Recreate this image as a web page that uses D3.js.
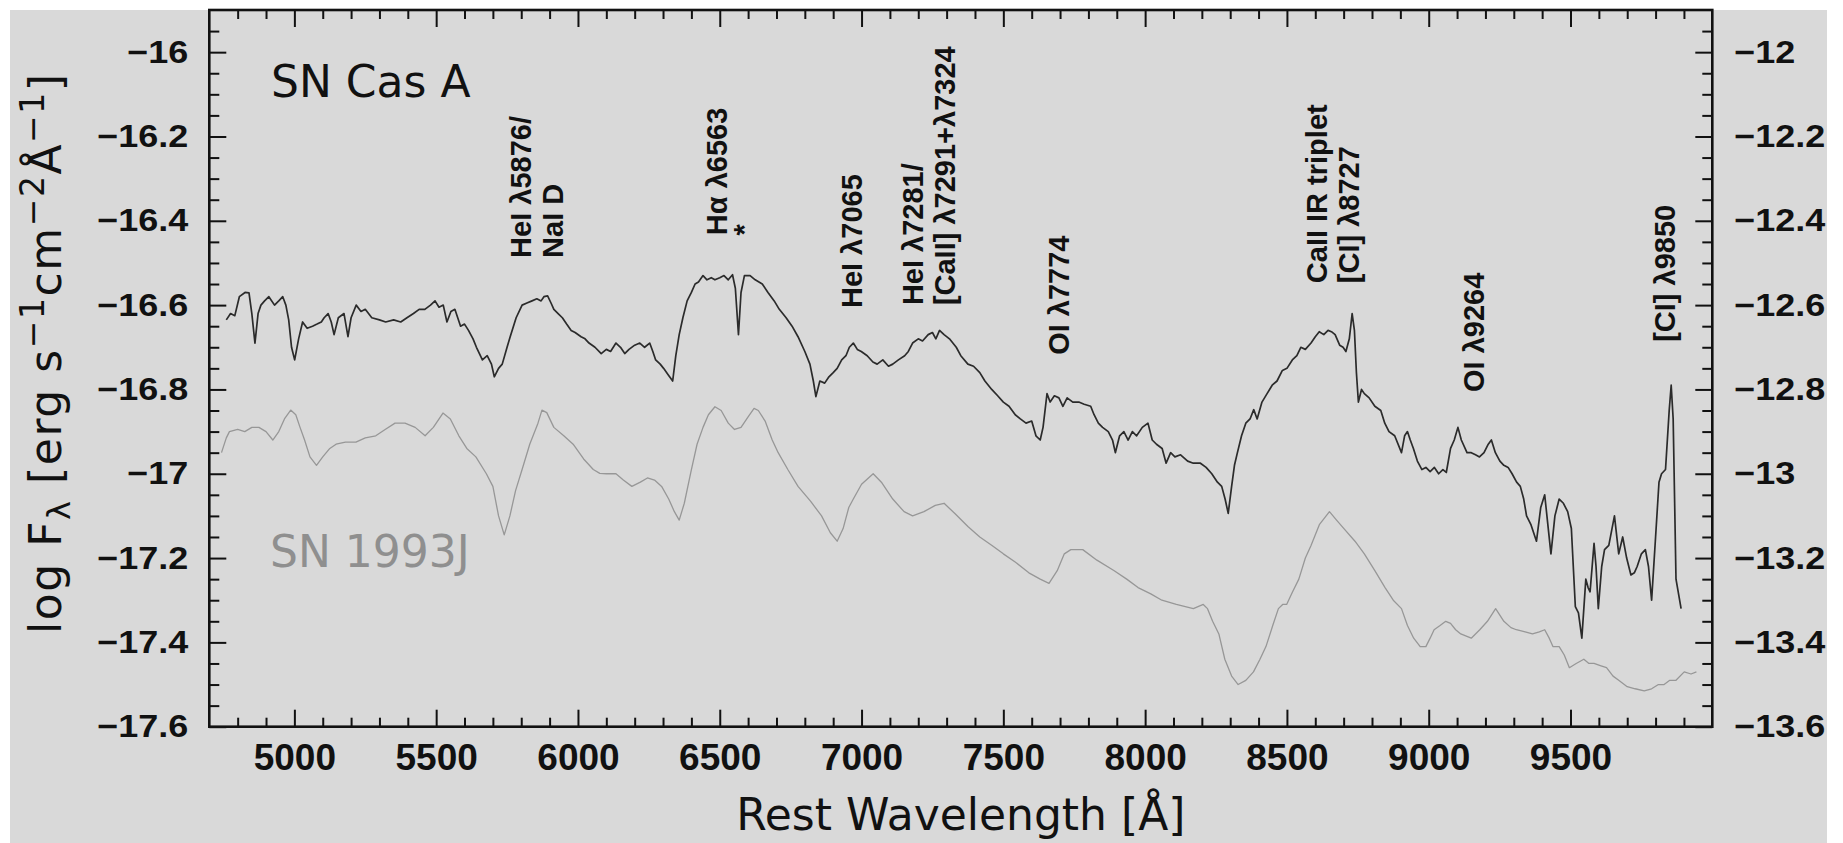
<!DOCTYPE html>
<html>
<head>
<meta charset="utf-8">
<script src="https://cdn.jsdelivr.net/npm/d3@7"></script>
<style>
  html, body { margin: 0; padding: 0; background: #ffffff; }
  svg { display: block; }
</style>
</head>
<body>
<svg id="chart" width="1843" height="843"></svg>
<script>
// ---------------------------------------------------------------
// Spectra: rest wavelength (Angstrom) and log F_lambda
// ---------------------------------------------------------------
const casAWave = [4760,4775,4790,4806,4826,4840,4850,4861,4872,4882,4895,4910,4930,4945,4959,4970,4980,4990,5001,5015,5029,5045,5064,5080,5095,5105,5119,5130,5140,5155,5175,5189,5200,5218,5235,5250,5273,5300,5322,5350,5375,5397,5420,5440,5460,5480,5496,5510,5525,5538,5552,5566,5586,5600,5614,5630,5642,5663,5680,5695,5705,5720,5733,5750,5761,5782,5803,5820,5838,5855,5870,5880,5893,5905,5915,5930,5945,5960,5976,5990,6011,6025,6039,6060,6082,6100,6115,6134,6150,6165,6180,6200,6218,6235,6253,6264,6274,6290,6302,6318,6334,6345,6357,6370,6385,6400,6413,6425,6441,6455,6470,6483,6500,6515,6530,6545,6555,6566,6575,6587,6607,6625,6650,6670,6692,6710,6734,6755,6776,6800,6818,6830,6839,6853,6870,6885,6900,6914,6930,6945,6957,6971,6985,6999,7020,7040,7055,7075,7095,7110,7130,7152,7165,7180,7200,7215,7235,7250,7262,7275,7291,7310,7334,7350,7375,7395,7417,7435,7459,7480,7500,7520,7542,7560,7580,7600,7615,7630,7640,7654,7665,7680,7696,7710,7725,7745,7766,7785,7808,7820,7835,7850,7870,7885,7895,7910,7925,7940,7955,7970,7990,8010,8025,8040,8060,8074,8090,8105,8125,8150,8170,8195,8215,8235,8255,8270,8282,8293,8305,8315,8325,8340,8355,8370,8383,8395,8412,8430,8448,8465,8484,8500,8519,8535,8549,8565,8585,8600,8614,8630,8645,8657,8670,8686,8698,8708,8720,8730,8738,8745,8752,8763,8773,8790,8810,8831,8845,8860,8880,8904,8915,8925,8935,8946,8960,8976,8990,9005,9020,9035,9050,9062,9077,9090,9103,9115,9135,9150,9165,9179,9195,9210,9221,9235,9251,9265,9280,9294,9310,9323,9335,9345,9360,9380,9395,9409,9420,9431,9445,9460,9475,9490,9503,9517,9528,9540,9554,9562,9569,9583,9590,9598,9610,9620,9635,9655,9670,9684,9698,9713,9725,9735,9750,9764,9775,9786,9800,9812,9821,9835,9848,9855,9862,9872,9890];
const casAFlux = [-16.635,-16.62,-16.625,-16.58,-16.57,-16.571,-16.62,-16.69,-16.62,-16.60,-16.59,-16.58,-16.60,-16.59,-16.58,-16.60,-16.635,-16.70,-16.73,-16.68,-16.64,-16.655,-16.65,-16.645,-16.64,-16.63,-16.62,-16.64,-16.67,-16.63,-16.62,-16.675,-16.63,-16.60,-16.615,-16.61,-16.63,-16.635,-16.64,-16.635,-16.64,-16.63,-16.62,-16.61,-16.61,-16.60,-16.59,-16.605,-16.60,-16.64,-16.615,-16.61,-16.65,-16.645,-16.66,-16.68,-16.70,-16.73,-16.72,-16.74,-16.77,-16.75,-16.74,-16.70,-16.675,-16.63,-16.60,-16.595,-16.59,-16.585,-16.59,-16.58,-16.578,-16.595,-16.61,-16.62,-16.63,-16.645,-16.66,-16.665,-16.675,-16.68,-16.69,-16.70,-16.715,-16.705,-16.71,-16.69,-16.70,-16.715,-16.705,-16.695,-16.69,-16.70,-16.69,-16.71,-16.73,-16.74,-16.75,-16.765,-16.78,-16.72,-16.67,-16.63,-16.59,-16.57,-16.55,-16.545,-16.53,-16.54,-16.535,-16.54,-16.535,-16.53,-16.54,-16.528,-16.56,-16.67,-16.57,-16.53,-16.53,-16.54,-16.55,-16.57,-16.59,-16.61,-16.63,-16.65,-16.675,-16.71,-16.74,-16.78,-16.817,-16.78,-16.785,-16.77,-16.76,-16.75,-16.73,-16.72,-16.70,-16.69,-16.705,-16.71,-16.72,-16.735,-16.74,-16.73,-16.745,-16.74,-16.73,-16.72,-16.71,-16.69,-16.68,-16.685,-16.67,-16.665,-16.68,-16.66,-16.67,-16.68,-16.70,-16.72,-16.74,-16.745,-16.76,-16.78,-16.80,-16.815,-16.83,-16.84,-16.86,-16.87,-16.88,-16.875,-16.91,-16.92,-16.89,-16.81,-16.83,-16.815,-16.82,-16.84,-16.82,-16.83,-16.83,-16.835,-16.84,-16.86,-16.88,-16.89,-16.90,-16.92,-16.95,-16.91,-16.90,-16.92,-16.90,-16.91,-16.89,-16.88,-16.92,-16.93,-16.94,-16.975,-16.95,-16.96,-16.955,-16.97,-16.975,-16.975,-16.985,-17.0,-17.02,-17.03,-17.06,-17.094,-17.03,-16.98,-16.951,-16.91,-16.88,-16.87,-16.848,-16.87,-16.83,-16.81,-16.79,-16.78,-16.755,-16.75,-16.73,-16.72,-16.70,-16.705,-16.69,-16.675,-16.663,-16.67,-16.66,-16.663,-16.67,-16.695,-16.70,-16.71,-16.68,-16.62,-16.66,-16.76,-16.83,-16.80,-16.81,-16.82,-16.84,-16.85,-16.88,-16.90,-16.91,-16.95,-16.91,-16.90,-16.92,-16.94,-16.97,-16.99,-16.985,-16.995,-16.985,-17.0,-16.99,-16.997,-16.94,-16.92,-16.89,-16.92,-16.95,-16.95,-16.955,-16.96,-16.95,-16.93,-16.92,-16.95,-16.97,-16.98,-16.985,-17.0,-17.02,-17.03,-17.06,-17.10,-17.12,-17.16,-17.08,-17.05,-17.12,-17.19,-17.10,-17.06,-17.07,-17.09,-17.13,-17.315,-17.33,-17.39,-17.25,-17.27,-17.28,-17.165,-17.22,-17.32,-17.22,-17.18,-17.17,-17.10,-17.19,-17.15,-17.20,-17.24,-17.235,-17.22,-17.19,-17.18,-17.22,-17.30,-17.15,-17.02,-17.0,-16.99,-16.85,-16.79,-16.87,-17.25,-17.32];

const sn93jWave = [4743,4760,4771,4800,4825,4850,4875,4900,4924,4945,4965,4987,5005,5020,5036,5055,5078,5100,5125,5147,5180,5217,5250,5287,5320,5355,5390,5426,5461,5490,5524,5550,5580,5608,5640,5677,5700,5720,5740,5760,5780,5803,5830,5859,5873,5890,5915,5950,5983,6020,6054,6077,6100,6134,6160,6190,6220,6245,6270,6295,6320,6340,6357,6375,6400,6420,6441,6460,6483,6505,6530,6552,6575,6600,6621,6636,6660,6685,6706,6740,6776,6820,6859,6890,6914,6935,6955,6971,7000,7041,7070,7090,7110,7150,7180,7220,7260,7291,7330,7375,7417,7460,7500,7543,7590,7630,7661,7690,7715,7738,7780,7830,7891,7935,7975,8020,8059,8110,8170,8205,8220,8238,8260,8281,8305,8328,8355,8382,8405,8426,8450,8470,8485,8499,8520,8542,8565,8585,8615,8650,8675,8701,8740,8773,8810,8846,8875,8904,8925,8947,8970,8990,9005,9019,9040,9060,9077,9095,9113,9150,9180,9207,9236,9265,9290,9309,9340,9366,9390,9409,9425,9438,9460,9478,9496,9520,9547,9565,9583,9605,9627,9650,9670,9700,9728,9760,9786,9810,9830,9850,9872,9901,9925,9944];
const sn93jFlux = [-16.95,-16.915,-16.90,-16.895,-16.90,-16.89,-16.89,-16.90,-16.92,-16.90,-16.87,-16.849,-16.86,-16.89,-16.92,-16.96,-16.98,-16.96,-16.94,-16.93,-16.925,-16.925,-16.915,-16.91,-16.895,-16.88,-16.88,-16.89,-16.91,-16.89,-16.856,-16.87,-16.91,-16.94,-16.96,-17.0,-17.03,-17.10,-17.145,-17.10,-17.04,-16.99,-16.93,-16.88,-16.849,-16.855,-16.89,-16.91,-16.93,-16.965,-16.99,-16.999,-17.0,-17.0,-17.015,-17.03,-17.02,-17.01,-17.015,-17.03,-17.06,-17.09,-17.11,-17.07,-16.99,-16.93,-16.89,-16.86,-16.841,-16.85,-16.88,-16.895,-16.89,-16.865,-16.845,-16.85,-16.875,-16.92,-16.95,-16.99,-17.03,-17.065,-17.10,-17.14,-17.16,-17.13,-17.08,-17.06,-17.025,-17.0,-17.02,-17.04,-17.06,-17.09,-17.10,-17.09,-17.075,-17.07,-17.095,-17.125,-17.15,-17.17,-17.19,-17.21,-17.235,-17.25,-17.26,-17.23,-17.19,-17.18,-17.18,-17.205,-17.23,-17.25,-17.27,-17.285,-17.30,-17.31,-17.32,-17.31,-17.32,-17.35,-17.38,-17.44,-17.48,-17.50,-17.49,-17.47,-17.44,-17.41,-17.36,-17.32,-17.31,-17.31,-17.28,-17.25,-17.20,-17.17,-17.12,-17.09,-17.11,-17.13,-17.16,-17.19,-17.23,-17.27,-17.30,-17.32,-17.36,-17.39,-17.41,-17.41,-17.39,-17.37,-17.36,-17.35,-17.355,-17.37,-17.38,-17.39,-17.37,-17.35,-17.32,-17.35,-17.365,-17.37,-17.375,-17.38,-17.375,-17.37,-17.39,-17.41,-17.41,-17.43,-17.46,-17.45,-17.44,-17.45,-17.45,-17.455,-17.46,-17.48,-17.49,-17.505,-17.51,-17.515,-17.51,-17.50,-17.50,-17.49,-17.49,-17.47,-17.475,-17.47];

// Axis ticks and labels
const xMajorTicks = [5000, 5500, 6000, 6500, 7000, 7500, 8000, 8500, 9000, 9500];
const yMajorTicks = [-16, -16.2, -16.4, -16.6, -16.8, -17, -17.2, -17.4, -17.6];
const yLeftLabels = ["\u221216", "\u221216.2", "\u221216.4", "\u221216.6", "\u221216.8", "\u221217", "\u221217.2", "\u221217.4", "\u221217.6"];
const yRightLabels = ["\u221212", "\u221212.2", "\u221212.4", "\u221212.6", "\u221212.8", "\u221213", "\u221213.2", "\u221213.4", "\u221213.6"];

// Line identifications: label lines, anchor wavelength and anchor log flux
const lineLabels = [
  ["HeI \u03bb5876/", "NaI D"],
  ["H\u03b1 \u03bb6563"],
  ["*"],
  ["HeI \u03bb7065"],
  ["HeI \u03bb7281/", "[CaII] \u03bb7291+\u03bb7324"],
  ["OI \u03bb7774"],
  ["CaII IR triplet", "[CI] \u03bb8727"],
  ["OI \u03bb9264"],
  ["[CI] \u03bb9850"]
];
const lineLabelWave = [5834, 6526, 6621, 7002, 7217, 7732, 8642, 9195, 9869];
const lineLabelFlux = [-16.488, -16.434, -16.435, -16.607, -16.600, -16.718, -16.548, -16.806, -16.687];

// ---------------------------------------------------------------
const svg = d3.select("#chart");
const plot = { left: 209.3, right: 1712.3, top: 10, bottom: 726.7 };
const tickFont = "'Liberation Sans', Arial, Helvetica, sans-serif";
const titleFont = "'DejaVu Sans', Verdana, sans-serif";

svg.append("rect")
  .attr("x", 10).attr("y", 10)
  .attr("width", 1817).attr("height", 833)
  .attr("fill", "#d9d9d9");

const x = d3.scaleLinear().domain([4700, 10000]).range([plot.left, plot.right]);
const y = d3.scaleLinear().domain([-17.6, -15.9]).range([plot.bottom, plot.top]);
const yRight = d3.scaleLinear().domain([-13.6, -11.9]).range([plot.bottom, plot.top]);

// Spectra
const line = d3.line().x(d => x(d[0])).y(d => y(d[1]));
svg.append("path")
  .datum(d3.zip(sn93jWave, sn93jFlux))
  .attr("d", line)
  .attr("fill", "none")
  .attr("stroke", "#979797")
  .attr("stroke-width", 1.3)
  .attr("stroke-linejoin", "round");
svg.append("path")
  .datum(d3.zip(casAWave, casAFlux))
  .attr("d", line)
  .attr("fill", "none")
  .attr("stroke", "#2b2b2b")
  .attr("stroke-width", 1.7)
  .attr("stroke-linejoin", "round");

// Axes
const xMinorTicks = d3.range(4800, 10000, 100).filter(v => v % 500 !== 0);
const yMinorTicks = d3.range(0, 34).map(i => -17.6 + i * 0.05)
  .filter(v => !yMajorTicks.some(m => Math.abs(m - v) < 1e-6));
const yRightTicks = yMajorTicks.map(v => v + 4);

function tidy(g) {
  g.select(".domain").remove();
  g.selectAll(".tick line").attr("stroke", "#111").attr("stroke-width", 2);
  g.attr("font-family", tickFont).attr("font-weight", "bold");
  g.selectAll(".tick text").attr("fill", "#111");
}

// bottom
svg.append("g").attr("transform", `translate(0,${plot.bottom})`)
  .call(d3.axisBottom(x).tickValues(xMajorTicks).tickSize(-17).tickPadding(17).tickFormat(d3.format("d")))
  .call(tidy).attr("font-size", 37);
svg.append("g").attr("transform", `translate(0,${plot.bottom})`)
  .call(d3.axisBottom(x).tickValues(xMinorTicks).tickSize(-9).tickFormat(""))
  .call(tidy);
// top
svg.append("g").attr("transform", `translate(0,${plot.top})`)
  .call(d3.axisTop(x).tickValues(xMajorTicks).tickSize(-17).tickFormat(""))
  .call(tidy);
svg.append("g").attr("transform", `translate(0,${plot.top})`)
  .call(d3.axisTop(x).tickValues(xMinorTicks).tickSize(-9).tickFormat(""))
  .call(tidy);
// left
svg.append("g").attr("transform", `translate(${plot.left},0)`)
  .call(d3.axisLeft(y).tickValues(yMajorTicks).tickSize(-17).tickPadding(21)
    .tickFormat(d => yLeftLabels[yMajorTicks.indexOf(d)]))
  .call(tidy).attr("font-size", 36)
  .call(g => g.selectAll(".tick text").attr("transform", "scale(1,0.88)"));
svg.append("g").attr("transform", `translate(${plot.left},0)`)
  .call(d3.axisLeft(y).tickValues(yMinorTicks).tickSize(-10).tickFormat(""))
  .call(tidy);
// right
svg.append("g").attr("transform", `translate(${plot.right},0)`)
  .call(d3.axisRight(yRight).tickValues(yRightTicks).tickSize(-17).tickPadding(22)
    .tickFormat((d, i) => yRightLabels[i]))
  .call(tidy).attr("font-size", 36)
  .call(g => g.selectAll(".tick text").attr("transform", "scale(1,0.88)"));
svg.append("g").attr("transform", `translate(${plot.right},0)`)
  .call(d3.axisRight(yRight).tickValues(yMinorTicks.map(v => v + 4)).tickSize(-10).tickFormat(""))
  .call(tidy);

// Frame
svg.append("rect")
  .attr("x", plot.left).attr("y", plot.top)
  .attr("width", plot.right - plot.left).attr("height", plot.bottom - plot.top)
  .attr("fill", "none").attr("stroke", "#111").attr("stroke-width", 2.6);

// Axis titles
svg.append("text")
  .attr("x", (plot.left + plot.right) / 2).attr("y", 830)
  .attr("text-anchor", "middle")
  .attr("font-family", titleFont).attr("font-size", 44).attr("fill", "#111")
  .text("Rest Wavelength [\u00c5]");

const yt = svg.append("text")
  .attr("transform", "translate(61,354) rotate(-90)")
  .attr("text-anchor", "middle")
  .attr("textLength", 560).attr("lengthAdjust", "spacing")
  .attr("font-family", titleFont).attr("font-size", 44).attr("fill", "#111");
yt.append("tspan").text("log F");
yt.append("tspan").attr("font-size", 32).attr("dy", 9).text("\u03bb");
yt.append("tspan").attr("dy", -9).text(" [erg s");
yt.append("tspan").attr("font-size", 33).attr("dy", -17).text("\u22121");
yt.append("tspan").attr("dy", 17).text("cm");
yt.append("tspan").attr("font-size", 33).attr("dy", -17).text("\u22122");
yt.append("tspan").attr("dy", 17).text("\u00c5");
yt.append("tspan").attr("font-size", 33).attr("dy", -17).text("\u22121");
yt.append("tspan").attr("dy", 17).text("]");

// Object names
svg.append("text")
  .attr("x", 271).attr("y", 97)
  .attr("font-family", titleFont).attr("font-size", 44).attr("fill", "#111")
  .text("SN Cas A");
svg.append("text")
  .attr("x", 270).attr("y", 567)
  .attr("font-family", titleFont).attr("font-size", 44).attr("fill", "#8f8f8f")
  .text("SN 1993J");

// Line identifications (vertical text)
const lineHeight = 32;
lineLabels.forEach((lines, i) => {
  const g = svg.append("g")
    .attr("transform", `translate(${x(lineLabelWave[i])},${y(lineLabelFlux[i])}) rotate(-90)`);
  lines.forEach((t, j) => {
    g.append("text")
      .attr("x", 0).attr("y", j * lineHeight)
      .attr("font-family", tickFont).attr("font-weight", "bold")
      .attr("font-size", 29).attr("fill", "#111")
      .text(t);
  });
});
</script>
</body>
</html>
